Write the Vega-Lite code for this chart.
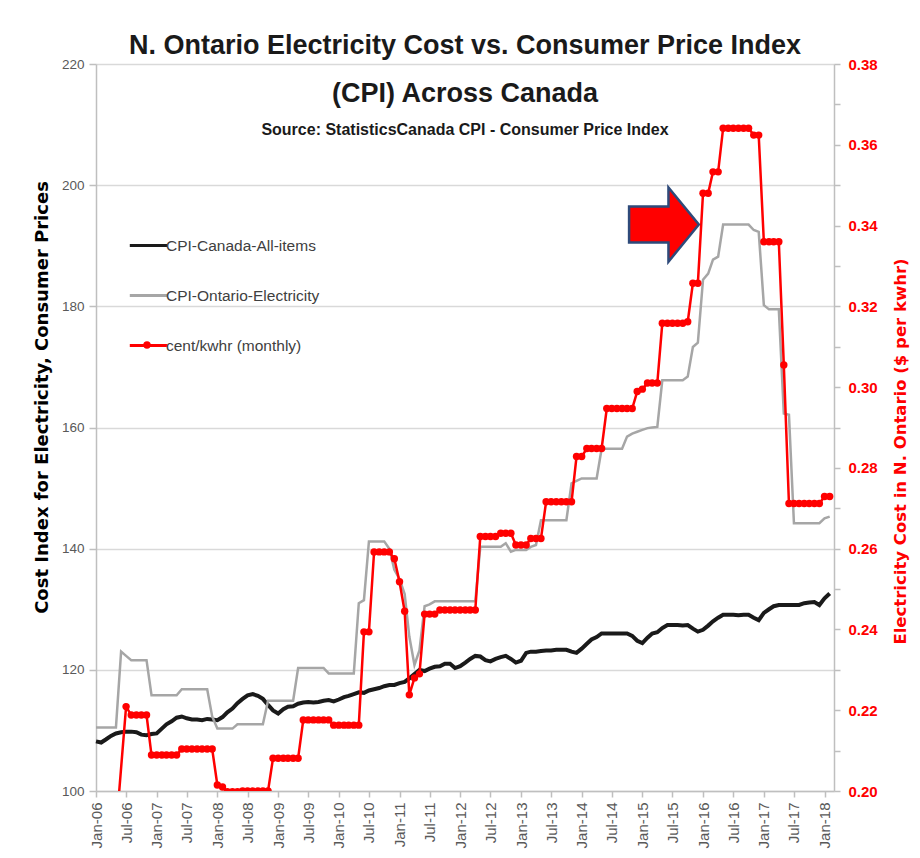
{
  "$schema": "https://vega.github.io/schema/vega-lite/v6.json",
  "width": 738,
  "height": 727,
  "autosize": {"type": "none"},
  "padding": {"left": 96, "top": 64, "right": 86, "bottom": 67},
  "background": "#ffffff",
  "config": {
    "view": {"stroke": null},
    "font": "Liberation Sans",
    "axis": {"domainColor": "#bfbfbf", "tickColor": "#bfbfbf", "domainWidth": 1.5, "tickWidth": 1.5}
  },
  "title": {
    "text": ["N. Ontario Electricity Cost vs. Consumer Price Index", "(CPI) Across Canada"],
    "subtitle": "Source: StatisticsCanada  CPI - Consumer Price Index",
    "anchor": "middle", "frame": "group", "orient": "top", "offset": -82,
    "font": "Liberation Sans", "fontSize": 27, "fontWeight": "bold", "color": "#1a1a1a", "lineHeight": 48,
    "subtitleFont": "Liberation Sans", "subtitleFontSize": 16, "subtitleFontWeight": "bold", "subtitleColor": "#1a1a1a", "subtitlePadding": 14
  },
  "datasets": {
    "cpi": [
      {"date":"2006/01/01","series":"CPI-Canada-All-items","value":108.2},
      {"date":"2006/02/01","series":"CPI-Canada-All-items","value":108.0},
      {"date":"2006/03/01","series":"CPI-Canada-All-items","value":108.5},
      {"date":"2006/04/01","series":"CPI-Canada-All-items","value":109.1},
      {"date":"2006/05/01","series":"CPI-Canada-All-items","value":109.5},
      {"date":"2006/06/01","series":"CPI-Canada-All-items","value":109.7},
      {"date":"2006/07/01","series":"CPI-Canada-All-items","value":109.8},
      {"date":"2006/08/01","series":"CPI-Canada-All-items","value":109.8},
      {"date":"2006/09/01","series":"CPI-Canada-All-items","value":109.7},
      {"date":"2006/10/01","series":"CPI-Canada-All-items","value":109.3},
      {"date":"2006/11/01","series":"CPI-Canada-All-items","value":109.2},
      {"date":"2006/12/01","series":"CPI-Canada-All-items","value":109.4},
      {"date":"2007/01/01","series":"CPI-Canada-All-items","value":109.5},
      {"date":"2007/02/01","series":"CPI-Canada-All-items","value":110.3},
      {"date":"2007/03/01","series":"CPI-Canada-All-items","value":111.0},
      {"date":"2007/04/01","series":"CPI-Canada-All-items","value":111.5},
      {"date":"2007/05/01","series":"CPI-Canada-All-items","value":112.1},
      {"date":"2007/06/01","series":"CPI-Canada-All-items","value":112.3},
      {"date":"2007/07/01","series":"CPI-Canada-All-items","value":112.0},
      {"date":"2007/08/01","series":"CPI-Canada-All-items","value":111.8},
      {"date":"2007/09/01","series":"CPI-Canada-All-items","value":111.8},
      {"date":"2007/10/01","series":"CPI-Canada-All-items","value":111.7},
      {"date":"2007/11/01","series":"CPI-Canada-All-items","value":111.9},
      {"date":"2007/12/01","series":"CPI-Canada-All-items","value":111.8},
      {"date":"2008/01/01","series":"CPI-Canada-All-items","value":111.7},
      {"date":"2008/02/01","series":"CPI-Canada-All-items","value":112.2},
      {"date":"2008/03/01","series":"CPI-Canada-All-items","value":113.0},
      {"date":"2008/04/01","series":"CPI-Canada-All-items","value":113.6},
      {"date":"2008/05/01","series":"CPI-Canada-All-items","value":114.5},
      {"date":"2008/06/01","series":"CPI-Canada-All-items","value":115.2},
      {"date":"2008/07/01","series":"CPI-Canada-All-items","value":115.8},
      {"date":"2008/08/01","series":"CPI-Canada-All-items","value":116.0},
      {"date":"2008/09/01","series":"CPI-Canada-All-items","value":115.7},
      {"date":"2008/10/01","series":"CPI-Canada-All-items","value":115.2},
      {"date":"2008/11/01","series":"CPI-Canada-All-items","value":114.2},
      {"date":"2008/12/01","series":"CPI-Canada-All-items","value":113.3},
      {"date":"2009/01/01","series":"CPI-Canada-All-items","value":112.8},
      {"date":"2009/02/01","series":"CPI-Canada-All-items","value":113.5},
      {"date":"2009/03/01","series":"CPI-Canada-All-items","value":113.9},
      {"date":"2009/04/01","series":"CPI-Canada-All-items","value":114.0},
      {"date":"2009/05/01","series":"CPI-Canada-All-items","value":114.4},
      {"date":"2009/06/01","series":"CPI-Canada-All-items","value":114.6},
      {"date":"2009/07/01","series":"CPI-Canada-All-items","value":114.7},
      {"date":"2009/08/01","series":"CPI-Canada-All-items","value":114.6},
      {"date":"2009/09/01","series":"CPI-Canada-All-items","value":114.7},
      {"date":"2009/10/01","series":"CPI-Canada-All-items","value":114.9},
      {"date":"2009/11/01","series":"CPI-Canada-All-items","value":115.0},
      {"date":"2009/12/01","series":"CPI-Canada-All-items","value":114.8},
      {"date":"2010/01/01","series":"CPI-Canada-All-items","value":115.1},
      {"date":"2010/02/01","series":"CPI-Canada-All-items","value":115.5},
      {"date":"2010/03/01","series":"CPI-Canada-All-items","value":115.7},
      {"date":"2010/04/01","series":"CPI-Canada-All-items","value":116.0},
      {"date":"2010/05/01","series":"CPI-Canada-All-items","value":116.3},
      {"date":"2010/06/01","series":"CPI-Canada-All-items","value":116.2},
      {"date":"2010/07/01","series":"CPI-Canada-All-items","value":116.6},
      {"date":"2010/08/01","series":"CPI-Canada-All-items","value":116.8},
      {"date":"2010/09/01","series":"CPI-Canada-All-items","value":117.0},
      {"date":"2010/10/01","series":"CPI-Canada-All-items","value":117.3},
      {"date":"2010/11/01","series":"CPI-Canada-All-items","value":117.5},
      {"date":"2010/12/01","series":"CPI-Canada-All-items","value":117.5},
      {"date":"2011/01/01","series":"CPI-Canada-All-items","value":117.8},
      {"date":"2011/02/01","series":"CPI-Canada-All-items","value":118.0},
      {"date":"2011/03/01","series":"CPI-Canada-All-items","value":118.6},
      {"date":"2011/04/01","series":"CPI-Canada-All-items","value":119.3},
      {"date":"2011/05/01","series":"CPI-Canada-All-items","value":120.0},
      {"date":"2011/06/01","series":"CPI-Canada-All-items","value":119.8},
      {"date":"2011/07/01","series":"CPI-Canada-All-items","value":120.2},
      {"date":"2011/08/01","series":"CPI-Canada-All-items","value":120.5},
      {"date":"2011/09/01","series":"CPI-Canada-All-items","value":120.6},
      {"date":"2011/10/01","series":"CPI-Canada-All-items","value":121.0},
      {"date":"2011/11/01","series":"CPI-Canada-All-items","value":121.0},
      {"date":"2011/12/01","series":"CPI-Canada-All-items","value":120.3},
      {"date":"2012/01/01","series":"CPI-Canada-All-items","value":120.6},
      {"date":"2012/02/01","series":"CPI-Canada-All-items","value":121.2},
      {"date":"2012/03/01","series":"CPI-Canada-All-items","value":121.8},
      {"date":"2012/04/01","series":"CPI-Canada-All-items","value":122.3},
      {"date":"2012/05/01","series":"CPI-Canada-All-items","value":122.2},
      {"date":"2012/06/01","series":"CPI-Canada-All-items","value":121.6},
      {"date":"2012/07/01","series":"CPI-Canada-All-items","value":121.4},
      {"date":"2012/08/01","series":"CPI-Canada-All-items","value":121.8},
      {"date":"2012/09/01","series":"CPI-Canada-All-items","value":122.1},
      {"date":"2012/10/01","series":"CPI-Canada-All-items","value":122.3},
      {"date":"2012/11/01","series":"CPI-Canada-All-items","value":121.8},
      {"date":"2012/12/01","series":"CPI-Canada-All-items","value":121.2},
      {"date":"2013/01/01","series":"CPI-Canada-All-items","value":121.5},
      {"date":"2013/02/01","series":"CPI-Canada-All-items","value":122.8},
      {"date":"2013/03/01","series":"CPI-Canada-All-items","value":123.0},
      {"date":"2013/04/01","series":"CPI-Canada-All-items","value":123.0},
      {"date":"2013/05/01","series":"CPI-Canada-All-items","value":123.1},
      {"date":"2013/06/01","series":"CPI-Canada-All-items","value":123.2},
      {"date":"2013/07/01","series":"CPI-Canada-All-items","value":123.2},
      {"date":"2013/08/01","series":"CPI-Canada-All-items","value":123.3},
      {"date":"2013/09/01","series":"CPI-Canada-All-items","value":123.3},
      {"date":"2013/10/01","series":"CPI-Canada-All-items","value":123.3},
      {"date":"2013/11/01","series":"CPI-Canada-All-items","value":123.0},
      {"date":"2013/12/01","series":"CPI-Canada-All-items","value":122.8},
      {"date":"2014/01/01","series":"CPI-Canada-All-items","value":123.5},
      {"date":"2014/02/01","series":"CPI-Canada-All-items","value":124.3},
      {"date":"2014/03/01","series":"CPI-Canada-All-items","value":125.0},
      {"date":"2014/04/01","series":"CPI-Canada-All-items","value":125.4},
      {"date":"2014/05/01","series":"CPI-Canada-All-items","value":126.0},
      {"date":"2014/06/01","series":"CPI-Canada-All-items","value":126.0},
      {"date":"2014/07/01","series":"CPI-Canada-All-items","value":126.0},
      {"date":"2014/08/01","series":"CPI-Canada-All-items","value":126.0},
      {"date":"2014/09/01","series":"CPI-Canada-All-items","value":126.0},
      {"date":"2014/10/01","series":"CPI-Canada-All-items","value":126.0},
      {"date":"2014/11/01","series":"CPI-Canada-All-items","value":125.6},
      {"date":"2014/12/01","series":"CPI-Canada-All-items","value":124.8},
      {"date":"2015/01/01","series":"CPI-Canada-All-items","value":124.4},
      {"date":"2015/02/01","series":"CPI-Canada-All-items","value":125.3},
      {"date":"2015/03/01","series":"CPI-Canada-All-items","value":126.0},
      {"date":"2015/04/01","series":"CPI-Canada-All-items","value":126.2},
      {"date":"2015/05/01","series":"CPI-Canada-All-items","value":126.9},
      {"date":"2015/06/01","series":"CPI-Canada-All-items","value":127.4},
      {"date":"2015/07/01","series":"CPI-Canada-All-items","value":127.4},
      {"date":"2015/08/01","series":"CPI-Canada-All-items","value":127.4},
      {"date":"2015/09/01","series":"CPI-Canada-All-items","value":127.3},
      {"date":"2015/10/01","series":"CPI-Canada-All-items","value":127.4},
      {"date":"2015/11/01","series":"CPI-Canada-All-items","value":126.8},
      {"date":"2015/12/01","series":"CPI-Canada-All-items","value":126.3},
      {"date":"2016/01/01","series":"CPI-Canada-All-items","value":126.6},
      {"date":"2016/02/01","series":"CPI-Canada-All-items","value":127.3},
      {"date":"2016/03/01","series":"CPI-Canada-All-items","value":128.0},
      {"date":"2016/04/01","series":"CPI-Canada-All-items","value":128.6},
      {"date":"2016/05/01","series":"CPI-Canada-All-items","value":129.1},
      {"date":"2016/06/01","series":"CPI-Canada-All-items","value":129.1},
      {"date":"2016/07/01","series":"CPI-Canada-All-items","value":129.1},
      {"date":"2016/08/01","series":"CPI-Canada-All-items","value":129.0},
      {"date":"2016/09/01","series":"CPI-Canada-All-items","value":129.1},
      {"date":"2016/10/01","series":"CPI-Canada-All-items","value":129.1},
      {"date":"2016/11/01","series":"CPI-Canada-All-items","value":128.6},
      {"date":"2016/12/01","series":"CPI-Canada-All-items","value":128.2},
      {"date":"2017/01/01","series":"CPI-Canada-All-items","value":129.4},
      {"date":"2017/02/01","series":"CPI-Canada-All-items","value":130.0},
      {"date":"2017/03/01","series":"CPI-Canada-All-items","value":130.5},
      {"date":"2017/04/01","series":"CPI-Canada-All-items","value":130.7},
      {"date":"2017/05/01","series":"CPI-Canada-All-items","value":130.7},
      {"date":"2017/06/01","series":"CPI-Canada-All-items","value":130.7},
      {"date":"2017/07/01","series":"CPI-Canada-All-items","value":130.7},
      {"date":"2017/08/01","series":"CPI-Canada-All-items","value":130.7},
      {"date":"2017/09/01","series":"CPI-Canada-All-items","value":131.0},
      {"date":"2017/10/01","series":"CPI-Canada-All-items","value":131.1},
      {"date":"2017/11/01","series":"CPI-Canada-All-items","value":131.2},
      {"date":"2017/12/01","series":"CPI-Canada-All-items","value":130.7},
      {"date":"2018/01/01","series":"CPI-Canada-All-items","value":131.8},
      {"date":"2018/02/01","series":"CPI-Canada-All-items","value":132.6},
      {"date":"2006/01/01","series":"CPI-Ontario-Electricity","value":110.5},
      {"date":"2006/02/01","series":"CPI-Ontario-Electricity","value":110.5},
      {"date":"2006/03/01","series":"CPI-Ontario-Electricity","value":110.5},
      {"date":"2006/04/01","series":"CPI-Ontario-Electricity","value":110.5},
      {"date":"2006/05/01","series":"CPI-Ontario-Electricity","value":110.5},
      {"date":"2006/06/01","series":"CPI-Ontario-Electricity","value":123.0},
      {"date":"2006/07/01","series":"CPI-Ontario-Electricity","value":122.3},
      {"date":"2006/08/01","series":"CPI-Ontario-Electricity","value":121.6},
      {"date":"2006/09/01","series":"CPI-Ontario-Electricity","value":121.6},
      {"date":"2006/10/01","series":"CPI-Ontario-Electricity","value":121.6},
      {"date":"2006/11/01","series":"CPI-Ontario-Electricity","value":121.6},
      {"date":"2006/12/01","series":"CPI-Ontario-Electricity","value":115.8},
      {"date":"2007/01/01","series":"CPI-Ontario-Electricity","value":115.8},
      {"date":"2007/02/01","series":"CPI-Ontario-Electricity","value":115.8},
      {"date":"2007/03/01","series":"CPI-Ontario-Electricity","value":115.8},
      {"date":"2007/04/01","series":"CPI-Ontario-Electricity","value":115.8},
      {"date":"2007/05/01","series":"CPI-Ontario-Electricity","value":115.8},
      {"date":"2007/06/01","series":"CPI-Ontario-Electricity","value":116.8},
      {"date":"2007/07/01","series":"CPI-Ontario-Electricity","value":116.8},
      {"date":"2007/08/01","series":"CPI-Ontario-Electricity","value":116.8},
      {"date":"2007/09/01","series":"CPI-Ontario-Electricity","value":116.8},
      {"date":"2007/10/01","series":"CPI-Ontario-Electricity","value":116.8},
      {"date":"2007/11/01","series":"CPI-Ontario-Electricity","value":116.8},
      {"date":"2007/12/01","series":"CPI-Ontario-Electricity","value":112.3},
      {"date":"2008/01/01","series":"CPI-Ontario-Electricity","value":110.3},
      {"date":"2008/02/01","series":"CPI-Ontario-Electricity","value":110.3},
      {"date":"2008/03/01","series":"CPI-Ontario-Electricity","value":110.3},
      {"date":"2008/04/01","series":"CPI-Ontario-Electricity","value":110.3},
      {"date":"2008/05/01","series":"CPI-Ontario-Electricity","value":111.0},
      {"date":"2008/06/01","series":"CPI-Ontario-Electricity","value":111.0},
      {"date":"2008/07/01","series":"CPI-Ontario-Electricity","value":111.0},
      {"date":"2008/08/01","series":"CPI-Ontario-Electricity","value":111.0},
      {"date":"2008/09/01","series":"CPI-Ontario-Electricity","value":111.0},
      {"date":"2008/10/01","series":"CPI-Ontario-Electricity","value":111.0},
      {"date":"2008/11/01","series":"CPI-Ontario-Electricity","value":114.9},
      {"date":"2008/12/01","series":"CPI-Ontario-Electricity","value":114.9},
      {"date":"2009/01/01","series":"CPI-Ontario-Electricity","value":114.9},
      {"date":"2009/02/01","series":"CPI-Ontario-Electricity","value":114.9},
      {"date":"2009/03/01","series":"CPI-Ontario-Electricity","value":114.9},
      {"date":"2009/04/01","series":"CPI-Ontario-Electricity","value":114.9},
      {"date":"2009/05/01","series":"CPI-Ontario-Electricity","value":120.3},
      {"date":"2009/06/01","series":"CPI-Ontario-Electricity","value":120.3},
      {"date":"2009/07/01","series":"CPI-Ontario-Electricity","value":120.3},
      {"date":"2009/08/01","series":"CPI-Ontario-Electricity","value":120.3},
      {"date":"2009/09/01","series":"CPI-Ontario-Electricity","value":120.3},
      {"date":"2009/10/01","series":"CPI-Ontario-Electricity","value":120.3},
      {"date":"2009/11/01","series":"CPI-Ontario-Electricity","value":119.4},
      {"date":"2009/12/01","series":"CPI-Ontario-Electricity","value":119.4},
      {"date":"2010/01/01","series":"CPI-Ontario-Electricity","value":119.4},
      {"date":"2010/02/01","series":"CPI-Ontario-Electricity","value":119.4},
      {"date":"2010/03/01","series":"CPI-Ontario-Electricity","value":119.4},
      {"date":"2010/04/01","series":"CPI-Ontario-Electricity","value":119.4},
      {"date":"2010/05/01","series":"CPI-Ontario-Electricity","value":131.0},
      {"date":"2010/06/01","series":"CPI-Ontario-Electricity","value":131.5},
      {"date":"2010/07/01","series":"CPI-Ontario-Electricity","value":141.2},
      {"date":"2010/08/01","series":"CPI-Ontario-Electricity","value":141.2},
      {"date":"2010/09/01","series":"CPI-Ontario-Electricity","value":141.2},
      {"date":"2010/10/01","series":"CPI-Ontario-Electricity","value":141.2},
      {"date":"2010/11/01","series":"CPI-Ontario-Electricity","value":140.0},
      {"date":"2010/12/01","series":"CPI-Ontario-Electricity","value":136.5},
      {"date":"2011/01/01","series":"CPI-Ontario-Electricity","value":135.0},
      {"date":"2011/02/01","series":"CPI-Ontario-Electricity","value":132.5},
      {"date":"2011/03/01","series":"CPI-Ontario-Electricity","value":125.5},
      {"date":"2011/04/01","series":"CPI-Ontario-Electricity","value":120.8},
      {"date":"2011/05/01","series":"CPI-Ontario-Electricity","value":123.2},
      {"date":"2011/06/01","series":"CPI-Ontario-Electricity","value":130.5},
      {"date":"2011/07/01","series":"CPI-Ontario-Electricity","value":130.8},
      {"date":"2011/08/01","series":"CPI-Ontario-Electricity","value":131.3},
      {"date":"2011/09/01","series":"CPI-Ontario-Electricity","value":131.3},
      {"date":"2011/10/01","series":"CPI-Ontario-Electricity","value":131.3},
      {"date":"2011/11/01","series":"CPI-Ontario-Electricity","value":131.3},
      {"date":"2011/12/01","series":"CPI-Ontario-Electricity","value":131.3},
      {"date":"2012/01/01","series":"CPI-Ontario-Electricity","value":131.3},
      {"date":"2012/02/01","series":"CPI-Ontario-Electricity","value":131.3},
      {"date":"2012/03/01","series":"CPI-Ontario-Electricity","value":131.3},
      {"date":"2012/04/01","series":"CPI-Ontario-Electricity","value":131.3},
      {"date":"2012/05/01","series":"CPI-Ontario-Electricity","value":140.3},
      {"date":"2012/06/01","series":"CPI-Ontario-Electricity","value":140.3},
      {"date":"2012/07/01","series":"CPI-Ontario-Electricity","value":140.3},
      {"date":"2012/08/01","series":"CPI-Ontario-Electricity","value":140.3},
      {"date":"2012/09/01","series":"CPI-Ontario-Electricity","value":140.3},
      {"date":"2012/10/01","series":"CPI-Ontario-Electricity","value":140.9},
      {"date":"2012/11/01","series":"CPI-Ontario-Electricity","value":139.5},
      {"date":"2012/12/01","series":"CPI-Ontario-Electricity","value":139.8},
      {"date":"2013/01/01","series":"CPI-Ontario-Electricity","value":139.8},
      {"date":"2013/02/01","series":"CPI-Ontario-Electricity","value":139.8},
      {"date":"2013/03/01","series":"CPI-Ontario-Electricity","value":140.3},
      {"date":"2013/04/01","series":"CPI-Ontario-Electricity","value":140.6},
      {"date":"2013/05/01","series":"CPI-Ontario-Electricity","value":144.7},
      {"date":"2013/06/01","series":"CPI-Ontario-Electricity","value":144.7},
      {"date":"2013/07/01","series":"CPI-Ontario-Electricity","value":144.7},
      {"date":"2013/08/01","series":"CPI-Ontario-Electricity","value":144.7},
      {"date":"2013/09/01","series":"CPI-Ontario-Electricity","value":144.7},
      {"date":"2013/10/01","series":"CPI-Ontario-Electricity","value":144.7},
      {"date":"2013/11/01","series":"CPI-Ontario-Electricity","value":150.8},
      {"date":"2013/12/01","series":"CPI-Ontario-Electricity","value":151.2},
      {"date":"2014/01/01","series":"CPI-Ontario-Electricity","value":151.6},
      {"date":"2014/02/01","series":"CPI-Ontario-Electricity","value":151.6},
      {"date":"2014/03/01","series":"CPI-Ontario-Electricity","value":151.6},
      {"date":"2014/04/01","series":"CPI-Ontario-Electricity","value":151.6},
      {"date":"2014/05/01","series":"CPI-Ontario-Electricity","value":156.5},
      {"date":"2014/06/01","series":"CPI-Ontario-Electricity","value":156.5},
      {"date":"2014/07/01","series":"CPI-Ontario-Electricity","value":156.5},
      {"date":"2014/08/01","series":"CPI-Ontario-Electricity","value":156.5},
      {"date":"2014/09/01","series":"CPI-Ontario-Electricity","value":156.5},
      {"date":"2014/10/01","series":"CPI-Ontario-Electricity","value":158.5},
      {"date":"2014/11/01","series":"CPI-Ontario-Electricity","value":159.0},
      {"date":"2014/12/01","series":"CPI-Ontario-Electricity","value":159.3},
      {"date":"2015/01/01","series":"CPI-Ontario-Electricity","value":159.6},
      {"date":"2015/02/01","series":"CPI-Ontario-Electricity","value":159.9},
      {"date":"2015/03/01","series":"CPI-Ontario-Electricity","value":160.0},
      {"date":"2015/04/01","series":"CPI-Ontario-Electricity","value":160.1},
      {"date":"2015/05/01","series":"CPI-Ontario-Electricity","value":167.8},
      {"date":"2015/06/01","series":"CPI-Ontario-Electricity","value":167.8},
      {"date":"2015/07/01","series":"CPI-Ontario-Electricity","value":167.8},
      {"date":"2015/08/01","series":"CPI-Ontario-Electricity","value":167.8},
      {"date":"2015/09/01","series":"CPI-Ontario-Electricity","value":167.8},
      {"date":"2015/10/01","series":"CPI-Ontario-Electricity","value":168.4},
      {"date":"2015/11/01","series":"CPI-Ontario-Electricity","value":173.3},
      {"date":"2015/12/01","series":"CPI-Ontario-Electricity","value":174.0},
      {"date":"2016/01/01","series":"CPI-Ontario-Electricity","value":184.4},
      {"date":"2016/02/01","series":"CPI-Ontario-Electricity","value":185.4},
      {"date":"2016/03/01","series":"CPI-Ontario-Electricity","value":187.7},
      {"date":"2016/04/01","series":"CPI-Ontario-Electricity","value":188.2},
      {"date":"2016/05/01","series":"CPI-Ontario-Electricity","value":193.5},
      {"date":"2016/06/01","series":"CPI-Ontario-Electricity","value":193.5},
      {"date":"2016/07/01","series":"CPI-Ontario-Electricity","value":193.5},
      {"date":"2016/08/01","series":"CPI-Ontario-Electricity","value":193.5},
      {"date":"2016/09/01","series":"CPI-Ontario-Electricity","value":193.5},
      {"date":"2016/10/01","series":"CPI-Ontario-Electricity","value":193.5},
      {"date":"2016/11/01","series":"CPI-Ontario-Electricity","value":192.6},
      {"date":"2016/12/01","series":"CPI-Ontario-Electricity","value":192.3},
      {"date":"2017/01/01","series":"CPI-Ontario-Electricity","value":180.2},
      {"date":"2017/02/01","series":"CPI-Ontario-Electricity","value":179.5},
      {"date":"2017/03/01","series":"CPI-Ontario-Electricity","value":179.5},
      {"date":"2017/04/01","series":"CPI-Ontario-Electricity","value":179.5},
      {"date":"2017/05/01","series":"CPI-Ontario-Electricity","value":162.3},
      {"date":"2017/06/01","series":"CPI-Ontario-Electricity","value":162.1},
      {"date":"2017/07/01","series":"CPI-Ontario-Electricity","value":144.2},
      {"date":"2017/08/01","series":"CPI-Ontario-Electricity","value":144.2},
      {"date":"2017/09/01","series":"CPI-Ontario-Electricity","value":144.2},
      {"date":"2017/10/01","series":"CPI-Ontario-Electricity","value":144.2},
      {"date":"2017/11/01","series":"CPI-Ontario-Electricity","value":144.2},
      {"date":"2017/12/01","series":"CPI-Ontario-Electricity","value":144.2},
      {"date":"2018/01/01","series":"CPI-Ontario-Electricity","value":145.0},
      {"date":"2018/02/01","series":"CPI-Ontario-Electricity","value":145.3}
    ],
    "elec": [
      {"date":"2006/05/01","series":"cent/kwhr (monthly)","value":0.190},
      {"date":"2006/07/01","series":"cent/kwhr (monthly)","value":0.2209},
      {"date":"2006/08/01","series":"cent/kwhr (monthly)","value":0.2188},
      {"date":"2006/09/01","series":"cent/kwhr (monthly)","value":0.2188},
      {"date":"2006/10/01","series":"cent/kwhr (monthly)","value":0.2188},
      {"date":"2006/11/01","series":"cent/kwhr (monthly)","value":0.2188},
      {"date":"2006/12/01","series":"cent/kwhr (monthly)","value":0.2089},
      {"date":"2007/01/01","series":"cent/kwhr (monthly)","value":0.2089},
      {"date":"2007/02/01","series":"cent/kwhr (monthly)","value":0.2089},
      {"date":"2007/03/01","series":"cent/kwhr (monthly)","value":0.2089},
      {"date":"2007/04/01","series":"cent/kwhr (monthly)","value":0.2089},
      {"date":"2007/05/01","series":"cent/kwhr (monthly)","value":0.2089},
      {"date":"2007/06/01","series":"cent/kwhr (monthly)","value":0.2104},
      {"date":"2007/07/01","series":"cent/kwhr (monthly)","value":0.2104},
      {"date":"2007/08/01","series":"cent/kwhr (monthly)","value":0.2104},
      {"date":"2007/09/01","series":"cent/kwhr (monthly)","value":0.2104},
      {"date":"2007/10/01","series":"cent/kwhr (monthly)","value":0.2104},
      {"date":"2007/11/01","series":"cent/kwhr (monthly)","value":0.2104},
      {"date":"2007/12/01","series":"cent/kwhr (monthly)","value":0.2104},
      {"date":"2008/01/01","series":"cent/kwhr (monthly)","value":0.2015},
      {"date":"2008/02/01","series":"cent/kwhr (monthly)","value":0.2010},
      {"date":"2008/03/01","series":"cent/kwhr (monthly)","value":0.1998},
      {"date":"2008/04/01","series":"cent/kwhr (monthly)","value":0.1998},
      {"date":"2008/05/01","series":"cent/kwhr (monthly)","value":0.1998},
      {"date":"2008/06/01","series":"cent/kwhr (monthly)","value":0.2000},
      {"date":"2008/07/01","series":"cent/kwhr (monthly)","value":0.2000},
      {"date":"2008/08/01","series":"cent/kwhr (monthly)","value":0.2000},
      {"date":"2008/09/01","series":"cent/kwhr (monthly)","value":0.2000},
      {"date":"2008/10/01","series":"cent/kwhr (monthly)","value":0.2000},
      {"date":"2008/11/01","series":"cent/kwhr (monthly)","value":0.2000},
      {"date":"2008/12/01","series":"cent/kwhr (monthly)","value":0.2081},
      {"date":"2009/01/01","series":"cent/kwhr (monthly)","value":0.2081},
      {"date":"2009/02/01","series":"cent/kwhr (monthly)","value":0.2081},
      {"date":"2009/03/01","series":"cent/kwhr (monthly)","value":0.2081},
      {"date":"2009/04/01","series":"cent/kwhr (monthly)","value":0.2081},
      {"date":"2009/05/01","series":"cent/kwhr (monthly)","value":0.2081},
      {"date":"2009/06/01","series":"cent/kwhr (monthly)","value":0.2176},
      {"date":"2009/07/01","series":"cent/kwhr (monthly)","value":0.2176},
      {"date":"2009/08/01","series":"cent/kwhr (monthly)","value":0.2176},
      {"date":"2009/09/01","series":"cent/kwhr (monthly)","value":0.2176},
      {"date":"2009/10/01","series":"cent/kwhr (monthly)","value":0.2176},
      {"date":"2009/11/01","series":"cent/kwhr (monthly)","value":0.2176},
      {"date":"2009/12/01","series":"cent/kwhr (monthly)","value":0.2163},
      {"date":"2010/01/01","series":"cent/kwhr (monthly)","value":0.2163},
      {"date":"2010/02/01","series":"cent/kwhr (monthly)","value":0.2163},
      {"date":"2010/03/01","series":"cent/kwhr (monthly)","value":0.2163},
      {"date":"2010/04/01","series":"cent/kwhr (monthly)","value":0.2163},
      {"date":"2010/05/01","series":"cent/kwhr (monthly)","value":0.2163},
      {"date":"2010/06/01","series":"cent/kwhr (monthly)","value":0.2394},
      {"date":"2010/07/01","series":"cent/kwhr (monthly)","value":0.2394},
      {"date":"2010/08/01","series":"cent/kwhr (monthly)","value":0.2592},
      {"date":"2010/09/01","series":"cent/kwhr (monthly)","value":0.2592},
      {"date":"2010/10/01","series":"cent/kwhr (monthly)","value":0.2592},
      {"date":"2010/11/01","series":"cent/kwhr (monthly)","value":0.2592},
      {"date":"2010/12/01","series":"cent/kwhr (monthly)","value":0.2575},
      {"date":"2011/01/01","series":"cent/kwhr (monthly)","value":0.2518},
      {"date":"2011/02/01","series":"cent/kwhr (monthly)","value":0.2445},
      {"date":"2011/03/01","series":"cent/kwhr (monthly)","value":0.2238},
      {"date":"2011/04/01","series":"cent/kwhr (monthly)","value":0.2280},
      {"date":"2011/05/01","series":"cent/kwhr (monthly)","value":0.2290},
      {"date":"2011/06/01","series":"cent/kwhr (monthly)","value":0.2438},
      {"date":"2011/07/01","series":"cent/kwhr (monthly)","value":0.2438},
      {"date":"2011/08/01","series":"cent/kwhr (monthly)","value":0.2438},
      {"date":"2011/09/01","series":"cent/kwhr (monthly)","value":0.2448},
      {"date":"2011/10/01","series":"cent/kwhr (monthly)","value":0.2448},
      {"date":"2011/11/01","series":"cent/kwhr (monthly)","value":0.2448},
      {"date":"2011/12/01","series":"cent/kwhr (monthly)","value":0.2448},
      {"date":"2012/01/01","series":"cent/kwhr (monthly)","value":0.2448},
      {"date":"2012/02/01","series":"cent/kwhr (monthly)","value":0.2448},
      {"date":"2012/03/01","series":"cent/kwhr (monthly)","value":0.2448},
      {"date":"2012/04/01","series":"cent/kwhr (monthly)","value":0.2448},
      {"date":"2012/05/01","series":"cent/kwhr (monthly)","value":0.2630},
      {"date":"2012/06/01","series":"cent/kwhr (monthly)","value":0.2630},
      {"date":"2012/07/01","series":"cent/kwhr (monthly)","value":0.2630},
      {"date":"2012/08/01","series":"cent/kwhr (monthly)","value":0.2630},
      {"date":"2012/09/01","series":"cent/kwhr (monthly)","value":0.2638},
      {"date":"2012/10/01","series":"cent/kwhr (monthly)","value":0.2638},
      {"date":"2012/11/01","series":"cent/kwhr (monthly)","value":0.2638},
      {"date":"2012/12/01","series":"cent/kwhr (monthly)","value":0.2609},
      {"date":"2013/01/01","series":"cent/kwhr (monthly)","value":0.2609},
      {"date":"2013/02/01","series":"cent/kwhr (monthly)","value":0.2609},
      {"date":"2013/03/01","series":"cent/kwhr (monthly)","value":0.2625},
      {"date":"2013/04/01","series":"cent/kwhr (monthly)","value":0.2625},
      {"date":"2013/05/01","series":"cent/kwhr (monthly)","value":0.2625},
      {"date":"2013/06/01","series":"cent/kwhr (monthly)","value":0.2716},
      {"date":"2013/07/01","series":"cent/kwhr (monthly)","value":0.2716},
      {"date":"2013/08/01","series":"cent/kwhr (monthly)","value":0.2716},
      {"date":"2013/09/01","series":"cent/kwhr (monthly)","value":0.2716},
      {"date":"2013/10/01","series":"cent/kwhr (monthly)","value":0.2716},
      {"date":"2013/11/01","series":"cent/kwhr (monthly)","value":0.2716},
      {"date":"2013/12/01","series":"cent/kwhr (monthly)","value":0.2828},
      {"date":"2014/01/01","series":"cent/kwhr (monthly)","value":0.2828},
      {"date":"2014/02/01","series":"cent/kwhr (monthly)","value":0.2848},
      {"date":"2014/03/01","series":"cent/kwhr (monthly)","value":0.2848},
      {"date":"2014/04/01","series":"cent/kwhr (monthly)","value":0.2848},
      {"date":"2014/05/01","series":"cent/kwhr (monthly)","value":0.2848},
      {"date":"2014/06/01","series":"cent/kwhr (monthly)","value":0.2947},
      {"date":"2014/07/01","series":"cent/kwhr (monthly)","value":0.2947},
      {"date":"2014/08/01","series":"cent/kwhr (monthly)","value":0.2947},
      {"date":"2014/09/01","series":"cent/kwhr (monthly)","value":0.2947},
      {"date":"2014/10/01","series":"cent/kwhr (monthly)","value":0.2947},
      {"date":"2014/11/01","series":"cent/kwhr (monthly)","value":0.2947},
      {"date":"2014/12/01","series":"cent/kwhr (monthly)","value":0.2989},
      {"date":"2015/01/01","series":"cent/kwhr (monthly)","value":0.2995},
      {"date":"2015/02/01","series":"cent/kwhr (monthly)","value":0.3010},
      {"date":"2015/03/01","series":"cent/kwhr (monthly)","value":0.3010},
      {"date":"2015/04/01","series":"cent/kwhr (monthly)","value":0.3010},
      {"date":"2015/05/01","series":"cent/kwhr (monthly)","value":0.3158},
      {"date":"2015/06/01","series":"cent/kwhr (monthly)","value":0.3158},
      {"date":"2015/07/01","series":"cent/kwhr (monthly)","value":0.3158},
      {"date":"2015/08/01","series":"cent/kwhr (monthly)","value":0.3158},
      {"date":"2015/09/01","series":"cent/kwhr (monthly)","value":0.3158},
      {"date":"2015/10/01","series":"cent/kwhr (monthly)","value":0.3162},
      {"date":"2015/11/01","series":"cent/kwhr (monthly)","value":0.3257},
      {"date":"2015/12/01","series":"cent/kwhr (monthly)","value":0.3257},
      {"date":"2016/01/01","series":"cent/kwhr (monthly)","value":0.3480},
      {"date":"2016/02/01","series":"cent/kwhr (monthly)","value":0.3480},
      {"date":"2016/03/01","series":"cent/kwhr (monthly)","value":0.3533},
      {"date":"2016/04/01","series":"cent/kwhr (monthly)","value":0.3533},
      {"date":"2016/05/01","series":"cent/kwhr (monthly)","value":0.3641},
      {"date":"2016/06/01","series":"cent/kwhr (monthly)","value":0.3641},
      {"date":"2016/07/01","series":"cent/kwhr (monthly)","value":0.3641},
      {"date":"2016/08/01","series":"cent/kwhr (monthly)","value":0.3641},
      {"date":"2016/09/01","series":"cent/kwhr (monthly)","value":0.3641},
      {"date":"2016/10/01","series":"cent/kwhr (monthly)","value":0.3641},
      {"date":"2016/11/01","series":"cent/kwhr (monthly)","value":0.3624},
      {"date":"2016/12/01","series":"cent/kwhr (monthly)","value":0.3624},
      {"date":"2017/01/01","series":"cent/kwhr (monthly)","value":0.3360},
      {"date":"2017/02/01","series":"cent/kwhr (monthly)","value":0.3360},
      {"date":"2017/03/01","series":"cent/kwhr (monthly)","value":0.3360},
      {"date":"2017/04/01","series":"cent/kwhr (monthly)","value":0.3360},
      {"date":"2017/05/01","series":"cent/kwhr (monthly)","value":0.3055},
      {"date":"2017/06/01","series":"cent/kwhr (monthly)","value":0.2712},
      {"date":"2017/07/01","series":"cent/kwhr (monthly)","value":0.2712},
      {"date":"2017/08/01","series":"cent/kwhr (monthly)","value":0.2712},
      {"date":"2017/09/01","series":"cent/kwhr (monthly)","value":0.2712},
      {"date":"2017/10/01","series":"cent/kwhr (monthly)","value":0.2712},
      {"date":"2017/11/01","series":"cent/kwhr (monthly)","value":0.2712},
      {"date":"2017/12/01","series":"cent/kwhr (monthly)","value":0.2712},
      {"date":"2018/01/01","series":"cent/kwhr (monthly)","value":0.2729},
      {"date":"2018/02/01","series":"cent/kwhr (monthly)","value":0.2729}
    ],
    "arrow": [
      {"date":"2015/05/11","value":193.5}
    ]
  },
  "encoding": {
    "x": {
      "field": "date", "type": "temporal",
      "scale": {"domain": [{"year": 2006, "month": 1, "date": 1}, {"year": 2018, "month": 2, "date": 27}]},
      "axis": {
        "title": null, "grid": false,
        "values": [
          {"year": 2006, "month": 1, "date": 1}, {"year": 2006, "month": 7, "date": 1},
          {"year": 2007, "month": 1, "date": 1}, {"year": 2007, "month": 7, "date": 1},
          {"year": 2008, "month": 1, "date": 1}, {"year": 2008, "month": 7, "date": 1},
          {"year": 2009, "month": 1, "date": 1}, {"year": 2009, "month": 7, "date": 1},
          {"year": 2010, "month": 1, "date": 1}, {"year": 2010, "month": 7, "date": 1},
          {"year": 2011, "month": 1, "date": 1}, {"year": 2011, "month": 7, "date": 1},
          {"year": 2012, "month": 1, "date": 1}, {"year": 2012, "month": 7, "date": 1},
          {"year": 2013, "month": 1, "date": 1}, {"year": 2013, "month": 7, "date": 1},
          {"year": 2014, "month": 1, "date": 1}, {"year": 2014, "month": 7, "date": 1},
          {"year": 2015, "month": 1, "date": 1}, {"year": 2015, "month": 7, "date": 1},
          {"year": 2016, "month": 1, "date": 1}, {"year": 2016, "month": 7, "date": 1},
          {"year": 2017, "month": 1, "date": 1}, {"year": 2017, "month": 7, "date": 1},
          {"year": 2018, "month": 1, "date": 1}
        ],
        "format": "%b-%y", "labelAngle": -90,
        "labelFont": "Liberation Sans", "labelFontSize": 15, "labelColor": "#595959",
        "labelOverlap": false, "labelFlush": false, "labelPadding": 5, "tickSize": 6
      }
    }
  },
  "layer": [
    {
      "data": {"name": "cpi"},
      "encoding": {
        "y": {
          "field": "value", "type": "quantitative",
          "scale": {"domain": [100, 220], "nice": false, "zero": false},
          "axis": {
            "orient": "left", "values": [100, 120, 140, 160, 180, 200, 220],
            "grid": true, "gridColor": "#d9d9d9", "gridWidth": 1.5,
            "labelColor": "#595959", "labelFontSize": 13.5, "labelPadding": 5, "tickSize": 7,
            "title": "Cost Index for Electricity, Consumer Prices",
            "titleFont": "DejaVu Sans", "titleFontSize": 18, "titleFontWeight": "bold", "titleColor": "#000000",
            "titleAngle": 270, "titleX": -54, "titleY": 333, "titleBaseline": "middle", "titleAlign": "center"
          }
        },
        "color": {
          "field": "series", "type": "nominal",
          "scale": {"domain": ["CPI-Canada-All-items", "CPI-Ontario-Electricity", "cent/kwhr (monthly)"], "range": ["#1a1a1a", "#a6a6a6", "#ff0000"]},
          "legend": {
            "orient": "none", "legendX": 32, "legendY": 161, "title": null,
            "symbolType": "stroke", "symbolSize": 1400, "symbolStrokeWidth": 3,
            "labelFont": "Liberation Sans", "labelFontSize": 15.5, "labelColor": "#404040", "labelOffset": -3,
            "rowPadding": 21
          }
        }
      },
      "layer": [
        {
          "transform": [{"filter": "datum.series === 'CPI-Canada-All-items'"}],
          "mark": {"type": "line", "strokeWidth": 4}
        },
        {
          "transform": [{"filter": "datum.series === 'CPI-Ontario-Electricity'"}],
          "mark": {"type": "line", "strokeWidth": 2.5}
        }
      ]
    },
    {
      "data": {"name": "elec"},
      "encoding": {
        "y": {
          "field": "value", "type": "quantitative",
          "scale": {"domain": [0.2, 0.38], "nice": false, "zero": false},
          "axis": {
            "orient": "right",
            "values": [0.2, 0.21, 0.22, 0.23, 0.24, 0.25, 0.26, 0.27, 0.28, 0.29, 0.3, 0.31, 0.32, 0.33, 0.34, 0.35, 0.36, 0.37, 0.38],
            "labelExpr": "round(datum.value * 100) % 2 == 0 ? format(datum.value, '.2f') : ''",
            "grid": false, "labelColor": "#ff0000", "labelFontWeight": "bold", "labelFontSize": 15,
            "labelPadding": 8, "tickSize": 6,
            "title": "Electricity Cost in N. Ontario ($ per kwhr)",
            "titleColor": "#ff0000", "titleFont": "DejaVu Sans", "titleFontSize": 16.5, "titleFontWeight": "bold",
            "titleAngle": 270, "titleX": 66, "titleY": 387, "titleBaseline": "middle", "titleAlign": "center"
          }
        }
      },
      "layer": [
        {
          "mark": {"type": "line", "clip": true, "strokeWidth": 2.5},
          "encoding": {
            "color": {"field": "series", "type": "nominal"}
          }
        },
        {
          "mark": {"type": "point", "clip": true, "filled": true, "size": 55, "color": "#ff0000", "opacity": 1},
          "encoding": {
            "shape": {
              "field": "series", "type": "nominal",
              "scale": {"domain": ["cent/kwhr (monthly)"], "range": ["circle"]},
              "legend": {
                "orient": "none", "legendX": 47, "legendY": 277, "title": null,
                "symbolSize": 55, "symbolFillColor": "#ff0000", "symbolStrokeColor": "#ff0000", "symbolStrokeWidth": 0,
                "symbolOpacity": 1, "labelExpr": "''", "labelFontSize": 1, "labelOffset": 0
              }
            }
          }
        }
      ]
    },
    {
      "data": {"name": "arrow"},
      "mark": {
        "type": "point",
        "shape": "M-0.93,-0.48L0.12,-0.48L0.12,-0.99L0.93,0L0.12,0.99L0.12,0.48L-0.93,0.48Z",
        "size": 5625, "filled": true, "fill": "#ff0000", "stroke": "#2e4a7a", "strokeWidth": 2.5, "opacity": 1
      },
      "encoding": {
        "y": {"field": "value", "type": "quantitative", "scale": {"domain": [100, 220], "nice": false, "zero": false}, "axis": null}
      }
    }
  ],
  "resolve": {"scale": {"y": "independent"}}
}
